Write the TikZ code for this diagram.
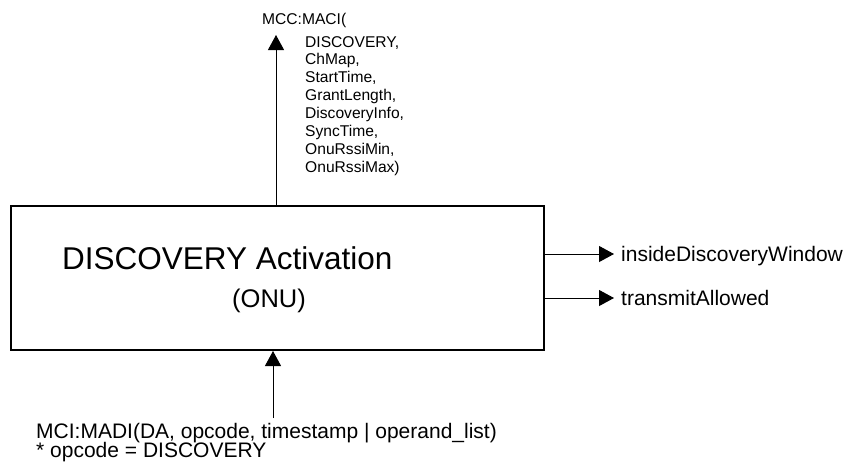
\documentclass[tikz,border=0pt]{standalone}
\usepackage{fontspec}
\setmainfont{Liberation Sans}
\usetikzlibrary{arrows.meta}
\tikzset{
  block/.style={draw=black, line width=2pt, minimum width=533pt, minimum height=144pt, inner sep=0pt},
  link/.style={draw=black, line width=1pt, -{Triangle[length=15pt,width=16pt]}},
  title/.style={font=\fontsize{31.5}{36}\selectfont, inner sep=0pt, anchor=base west},
  sub/.style={font=\fontsize{25.5}{30}\selectfont, inner sep=0pt, anchor=base west},
  prim/.style={font=\fontsize{15.6}{17.9}\selectfont, inner sep=0pt, align=left},
  signal/.style={font=\fontsize{21}{24}\selectfont, inner sep=0pt, text height=15pt, text depth=0pt, anchor=west},
  msg/.style={font=\fontsize{21}{24}\selectfont, inner sep=0pt, anchor=base west}
}
\begin{document}
\begin{tikzpicture}[x=1pt, y=-1pt]
  \useasboundingbox (0,0) rectangle (845,469);
  \node[block] (act) at (277.5,278) {};
  \node[title] (actname) at (62,269) {DISCOVERY Activation};
  \node[sub] (actonu) at (232,307) {(ONU)};

  \coordinate (maciTip) at (276,35);
  \draw[link] (act.north -| maciTip) -- (maciTip);
  \node[prim, anchor=base west] (maci) at (262,24) {MCC:MACI(};
  \node[prim, anchor=north west] (maciargs) at (305,36) {DISCOVERY,\\ChMap,\\StartTime,\\GrantLength,\\DiscoveryInfo,\\SyncTime,\\OnuRssiMin,\\OnuRssiMax)};

  \coordinate (madiTail) at (273,418);
  \draw[link] (madiTail) -- (madiTail |- act.south);
  \node[msg] (madi) at (36,438) {MCI:MADI(DA, opcode, timestamp | operand\_list)};
  \node[msg] (opcode) at (36,457) {* opcode = DISCOVERY};

  \node[signal] (window) at (621,254) {insideDiscoveryWindow};
  \node[signal] (allowed) at (621,298) {transmitAllowed};
  \draw[link] (act.east |- window.west) -- ([xshift=-7pt]window.west);
  \draw[link] (act.east |- allowed.west) -- ([xshift=-7pt]allowed.west);
\end{tikzpicture}
\end{document}
